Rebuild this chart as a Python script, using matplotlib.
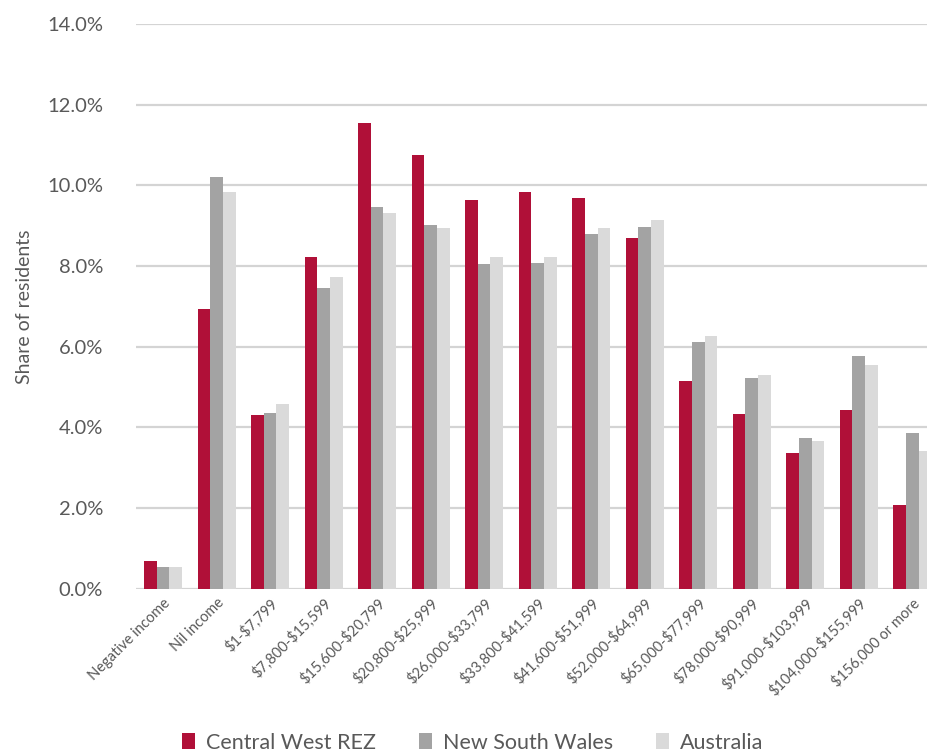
import numpy as np
import matplotlib.pyplot as plt
from matplotlib.ticker import PercentFormatter

plt.rcParams['font.family'] = ['Lato', 'DejaVu Sans']

# Income bands (annual personal income)
categories = ["Negative income", "Nil income", "$1-$7,799", "$7,800-$15,599",
              "$15,600-$20,799", "$20,800-$25,999", "$26,000-$33,799",
              "$33,800-$41,599", "$41,600-$51,999", "$52,000-$64,999",
              "$65,000-$77,999", "$78,000-$90,999", "$91,000-$103,999",
              "$104,000-$155,999", "$156,000 or more"]

# Share of residents (%)
central_west = [0.68, 6.94, 4.31, 8.22, 11.55, 10.75, 9.65, 9.83, 9.68, 8.69,
                5.16, 4.34, 3.36, 4.43, 2.07]
nsw = [0.55, 10.21, 4.37, 7.45, 9.46, 9.01, 8.05, 8.08, 8.79, 8.98,
       6.12, 5.22, 3.74, 5.76, 3.86]
australia = [0.55, 9.83, 4.59, 7.74, 9.32, 8.95, 8.22, 8.22, 8.95, 9.13,
             6.27, 5.29, 3.67, 5.55, 3.42]

series = [("Central West REZ", central_west, "#B01038"),
          ("New South Wales", nsw, "#A3A3A3"),
          ("Australia", australia, "#DADADA")]

text_col = "#595959"

fig = plt.figure(figsize=(9.27, 7.51), dpi=100)
ax = fig.add_axes([0.147, 0.216, 0.866, 0.752])

x = np.arange(len(categories))
width = 0.237
for i, (name, vals, col) in enumerate(series):
    ax.bar(x + (i - 1) * width, vals, width, color=col, label=name, zorder=3)

ax.set_xlim(-0.5, len(categories) - 0.5)
ax.set_ylim(0, 14)
ax.set_yticks(np.arange(0, 14.1, 2))
ax.yaxis.set_major_formatter(PercentFormatter(decimals=1))
ax.grid(axis='y', color="#D4D4D4", linewidth=1.6, zorder=0)

for side in ax.spines.values():
    side.set_visible(False)

ax.tick_params(axis='y', length=0, pad=24, labelsize=14.5, labelcolor=text_col)
ax.tick_params(axis='x', length=0, pad=5, labelsize=10.5, labelcolor=text_col)
ax.set_xticks(x)
# dollar signs are literal here, not mathtext
ax.set_xticklabels(categories, rotation=45, ha='right', rotation_mode='anchor',
                   parse_math=False)

ax.set_ylabel("Share of residents", fontsize=14, color=text_col, labelpad=10)

fig.legend(loc='center', bbox_to_anchor=(0.51, 0.011), ncol=3, frameon=False,
           fontsize=15.5, labelcolor=text_col, handlelength=0.6, handleheight=0.8,
           handletextpad=0.5, columnspacing=2.0)

fig.savefig("out.png", dpi=100)
